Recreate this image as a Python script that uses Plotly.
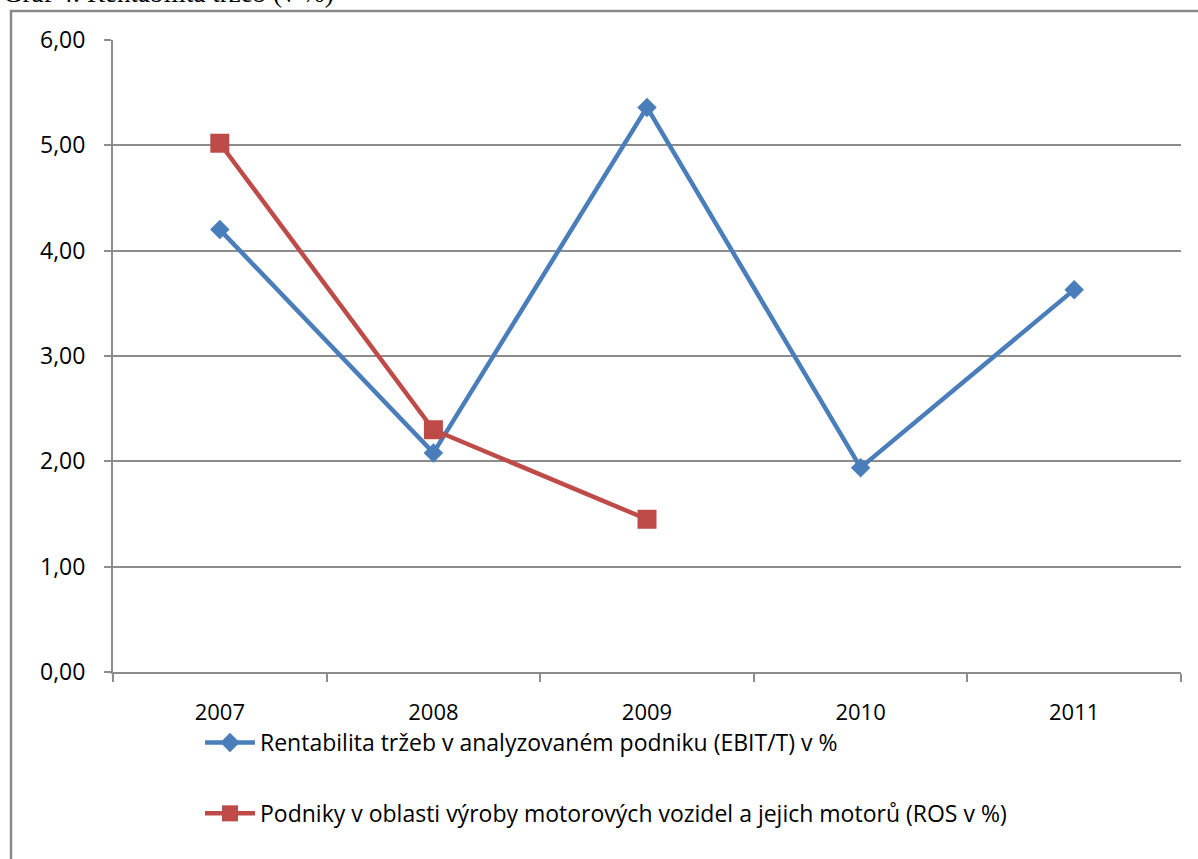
import plotly.graph_objects as go

# Years on the category axis
years = ["2007", "2008", "2009", "2010", "2011"]

# Return on sales of the analysed company (EBIT/T), in %
firm_ros = [4.20, 2.08, 5.36, 1.94, 3.63]
firm_name = "Rentabilita tržeb v analyzovaném podniku (EBIT/T) v %"

# Industry benchmark: motor vehicle manufacturers (ROS), in %
industry_years = ["2007", "2008", "2009"]
industry_ros = [5.02, 2.30, 1.45]
industry_name = "Podniky v oblasti výroby motorových vozidel a jejich motorů (ROS v %)"

title_text = "Graf 4: Rentabilita tržeb (v %)"

BLUE = "#4A7EBB"
RED = "#BE4B48"
GRID = "#8C8C8C"
FONT = "Open Sans"
FS = 23

W, H = 1198, 859
L, R, T, B = 113, 17, 40, 187
pw, ph = W - L - R, H - T - B


def px_x(p):
    return (p - L) / pw


def px_y(p):
    return (H - B - p) / ph


fig = go.Figure()

fig.add_trace(go.Scatter(
    x=years, y=firm_ros, name=firm_name, legendgroup="a",
    mode="lines+markers",
    line=dict(color=BLUE, width=4.5),
    marker=dict(symbol="diamond", size=15, color=BLUE),
))
fig.add_trace(go.Scatter(
    x=industry_years, y=industry_ros, name=industry_name, legendgroup="b",
    mode="lines+markers",
    line=dict(color=RED, width=4.5),
    marker=dict(symbol="square", size=19, color=RED),
))

fig.update_layout(
    width=W, height=H,
    margin=dict(l=L, r=R, t=T, b=B, pad=0),
    paper_bgcolor="white", plot_bgcolor="white",
    separators=", ",
    font=dict(family=FONT, size=FS, color="#000000"),
    showlegend=True,
    legend=dict(
        x=px_x(200), y=px_y(721), xanchor="left", yanchor="top",
        orientation="v", tracegroupgap=38,
        font=dict(family=FONT, size=FS, color="#000000"),
        bgcolor="rgba(0,0,0,0)", itemwidth=50,
    ),
    xaxis=dict(
        type="category", categoryorder="array", categoryarray=years,
        range=[-0.5, 4.5],
        showline=True, linecolor=GRID, linewidth=2,
        ticks="outside", tickson="boundaries", ticklen=8, tickcolor=GRID, tickwidth=1.5,
        showgrid=False, ticklabelstandoff=20,
        tickfont=dict(family=FONT, size=22),
    ),
    yaxis=dict(
        range=[0, 6], tickvals=[0, 1, 2, 3, 4, 5, 6], tickformat=".2f",
        showline=True, linecolor=GRID, linewidth=2,
        ticks="outside", ticklen=7, tickcolor=GRID, tickwidth=1.5,
        showgrid=True, gridcolor=GRID, gridwidth=1.5,
        zeroline=False, ticklabelstandoff=14,
        tickfont=dict(family=FONT, size=FS),
    ),
    shapes=[
        dict(
            type="rect", xref="paper", yref="paper",
            x0=px_x(11), x1=px_x(W + 20), y0=px_y(H + 20), y1=px_y(11),
            line=dict(color="#8A8A8A", width=2.5), fillcolor="rgba(0,0,0,0)",
            layer="below",
        )
    ],
    annotations=[
        dict(
            text=title_text, xref="paper", yref="paper",
            x=px_x(1), y=px_y(10), xanchor="left", yanchor="bottom",
            showarrow=False,
            font=dict(family="Liberation Serif", size=27, color="#000000"),
        )
    ],
)

fig.write_html("out.html")
